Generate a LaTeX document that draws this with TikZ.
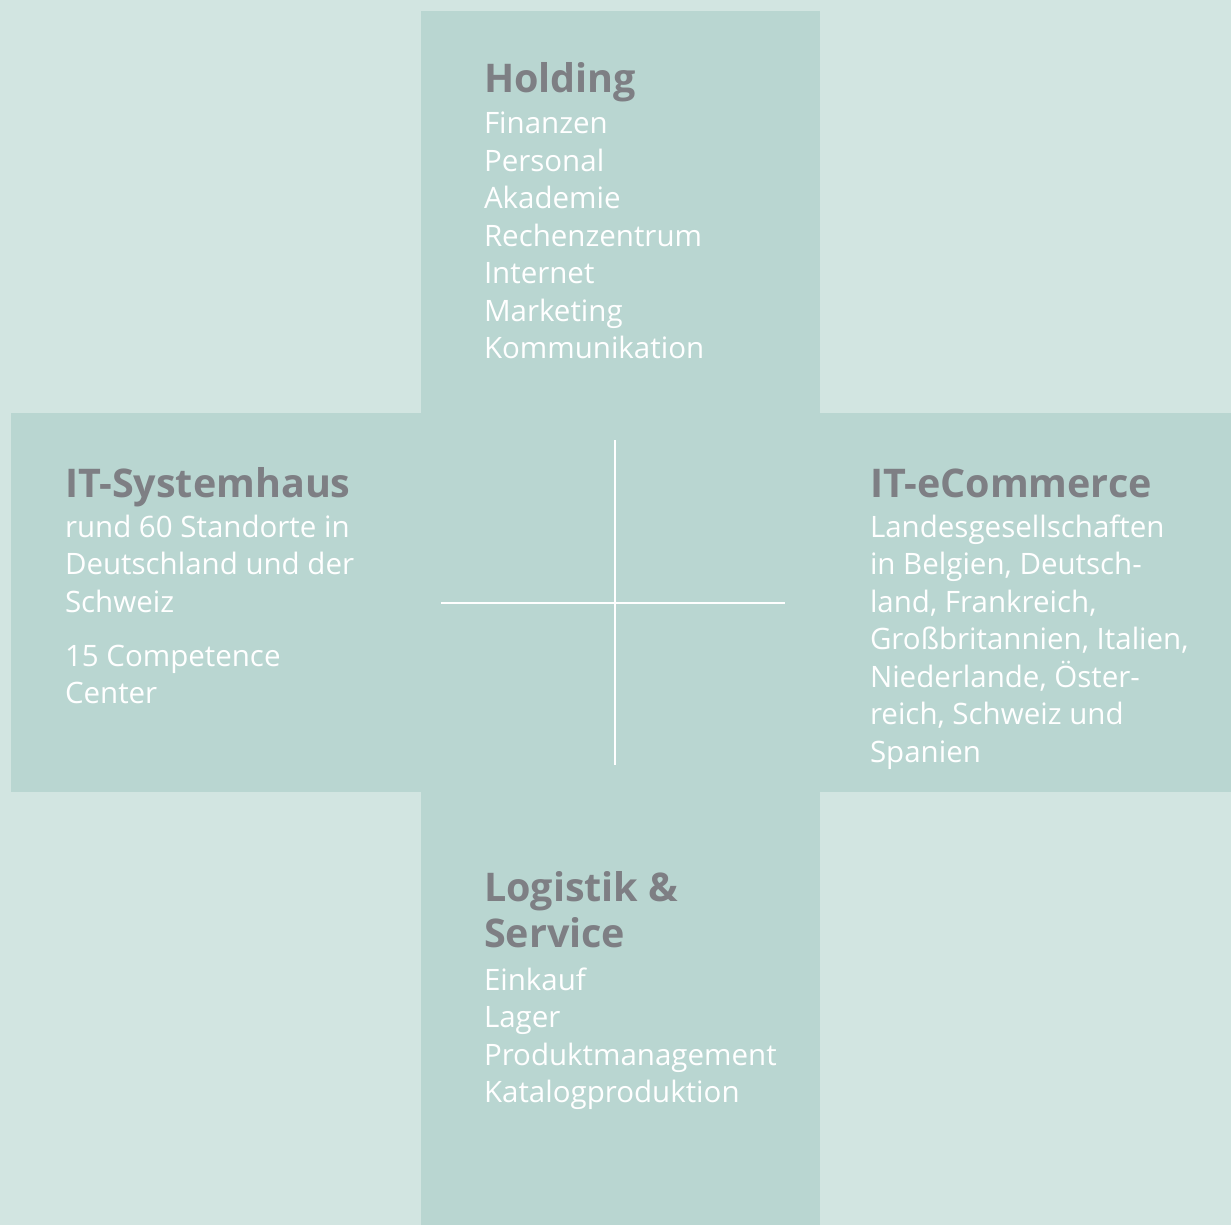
\documentclass[tikz,border=0pt]{standalone}
\usepackage{fontspec}
\setmainfont{Open Sans}
\definecolor{bgc}{HTML}{D2E5E1}
\definecolor{crossc}{HTML}{B9D6D1}
\definecolor{headc}{HTML}{7E7F84}
\newcommand\hd[1]{{\fontsize{39.5}{46}\selectfont\bfseries\color{headc}#1}}
\newcommand\bline[2]{\baselineskip=#1pt\hbox{#2}}
\newcommand\blk[1]{\fontsize{29.5}{37.5}\selectfont\color{white}\vtop{\lineskiplimit=-1000pt\lineskip=0pt\parskip=0pt#1}}
\begin{document}
\begin{tikzpicture}[x=1pt,y=-1pt,
  txt/.style={anchor=base west,inner sep=0pt,outer sep=0pt},
  sep/.style={draw=white,line width=2pt}]
\useasboundingbox (0,0) rectangle (1231,1225);
\fill[bgc] (0,0) rectangle (1231,1225);
\fill[crossc] (421,11) rectangle (820,1225);
\fill[crossc] (11,413) rectangle (1231,792);
\coordinate (vt) at (615,440);
\coordinate (vb) at (615,765);
\coordinate (hl) at (441,603);
\coordinate (hr) at (785,603);
\draw[sep] (vt) -- (vb);
\draw[sep] (hl) -- (hr);
\node[txt] (holding) at (484,93) {\blk{\hbox{\hd{Holding}}\bline{41}{Finanzen}\bline{37.5}{Personal}\hbox{Akademie}\hbox{Rechenzentrum}\hbox{Internet}\hbox{Marketing}\hbox{Kommunikation}}};
\node[txt] (system) at (65,497) {\blk{\hbox{\hd{IT-Systemhaus}}\bline{40}{rund 60 Standorte in}\bline{37.5}{Deutschland und der}\hbox{Schweiz}\bline{54}{15 Competence}\bline{37.5}{Center}}};
\node[txt] (ecom) at (870,497) {\blk{\hbox{\hd{IT-eCommerce}}\bline{40}{Landesgesellschaften}\bline{37.5}{in Belgien, Deutsch-}\hbox{land, Frankreich,}\hbox{Großbritannien, Italien,}\hbox{Niederlande, Öster-}\hbox{reich, Schweiz und}\hbox{Spanien}}};
\node[txt] (logistik) at (484,901) {\blk{\hbox{\hd{Logistik \&}}\bline{46}{\hd{Service}}\bline{43}{Einkauf}\bline{37.5}{Lager}\hbox{Produktmanagement}\hbox{Katalogproduktion}}};
\end{tikzpicture}
\end{document}
